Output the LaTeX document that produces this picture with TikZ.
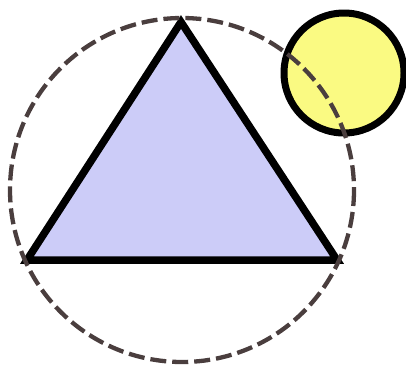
\documentclass[tikz,border=0pt]{standalone}
\definecolor{trifill}{HTML}{CCCCF8}
\definecolor{sunfill}{HTML}{FAFA82}
\definecolor{dashcol}{HTML}{4A3E3E}
\tikzset{
  tri/.style={fill=trifill,draw=black,line width=7.5pt,line join=miter},
  sun/.style={fill=sunfill,draw=black,line width=7pt},
  circum/.style={draw=dashcol,line width=4.3pt,dash pattern=on 16pt off 6pt}
}
\begin{document}
\begin{tikzpicture}[x=1pt,y=-1pt]
\useasboundingbox (0,0) rectangle (406,365);
\coordinate (A) at (181,22);
\coordinate (B) at (27,260);
\coordinate (C) at (337,260);
\coordinate (O) at (182,190);
\coordinate (S) at (344,73);
\draw[tri] (A) -- (B) -- (C) -- cycle;
\draw[sun] (S) circle[radius=60];
\draw[circum] (O) circle[radius=172];
\end{tikzpicture}
\end{document}
